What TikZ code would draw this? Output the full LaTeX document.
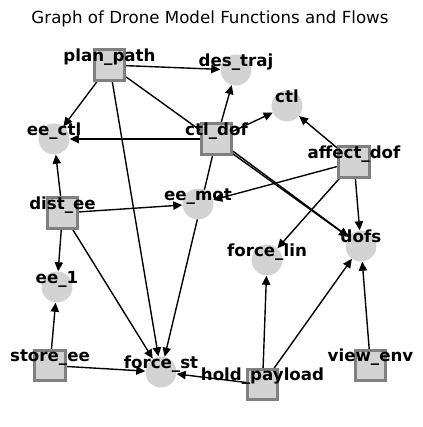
\documentclass[tikz,border=0pt]{standalone}
\usepackage{fontspec}
\setmainfont{DejaVu Sans}
\usetikzlibrary{arrows.meta}
\definecolor{flowgray}{HTML}{D3D3D3}
\definecolor{rimgray}{HTML}{808080}
\pgfdeclarelayer{background}
\pgfsetlayers{background,main}

\begin{document}
\begin{tikzpicture}[x=0.72pt, y=-0.72pt,
  func/.style={rectangle, fill=flowgray, draw=rimgray, line width=2pt,
    minimum size=21.8pt, inner sep=0pt},
  flow/.style={circle, fill=flowgray, minimum size=22.3pt, inner sep=0pt},
  lbl/.style={font=\fontsize{12}{14}\selectfont\bfseries, inner sep=0pt,
    anchor=base},
  flowedge/.style={-{Triangle[length=6.5pt, width=6pt]}, line width=1pt}]
  \useasboundingbox (0,0) rectangle (423,427);
  \node[font=\fontsize{12}{14}\selectfont, anchor=base] (title) at (210,23.5)
    {Graph of Drone Model Functions and Flows};
  % functions (squares)
  \node[func] (planpath) at (109.5,65) {};
  \node[func] (ctldof) at (216.5,139) {};
  \node[func] (affectdof) at (354,162) {};
  \node[func] (distee) at (62.5,213) {};
  \node[func] (storeee) at (50,365.5) {};
  \node[func] (holdpayload) at (262.5,384.5) {};
  \node[func] (viewenv) at (370.5,365.5) {};
  % flows (circles)
  \node[flow] (destraj) at (236,70) {};
  \node[flow] (ctl) at (287,106) {};
  \node[flow] (eectl) at (54,139) {};
  \node[flow] (eemot) at (198,204) {};
  \node[flow] (forcelin) at (267,260) {};
  \node[flow] (dofs) at (361,246) {};
  \node[flow] (ee1) at (57,287) {};
  \node[flow] (forcest) at (161,372) {};
  % edges go under the nodes
  \begin{pgfonlayer}{background}
    \foreach \a/\b in {planpath/destraj, planpath/eectl, planpath/dofs,
        planpath/forcest, ctldof/eectl, ctldof/destraj, ctldof/ctl,
        ctldof/dofs, ctldof/forcest, affectdof/ctl, affectdof/eemot,
        affectdof/forcelin, affectdof/dofs, distee/eectl, distee/eemot,
        distee/ee1, distee/forcest, storeee/ee1, storeee/forcest,
        holdpayload/forcest, holdpayload/forcelin, holdpayload/dofs,
        viewenv/dofs}
      \draw[flowedge] (\a) -- (\b);
  \end{pgfonlayer}
  % names on top of everything
  \foreach \n/\t in {planpath/plan\_path, ctldof/ctl\_dof,
      affectdof/affect\_dof, distee/dist\_ee, storeee/store\_ee,
      holdpayload/hold\_payload, viewenv/view\_env, destraj/des\_traj,
      ctl/ctl, eectl/ee\_ctl, eemot/ee\_mot, forcelin/force\_lin,
      dofs/dofs, ee1/ee\_1, forcest/force\_st}
    \node[lbl] (\n-lbl) at ([yshift=2.6pt]\n.center) {\t};
\end{tikzpicture}
\end{document}
